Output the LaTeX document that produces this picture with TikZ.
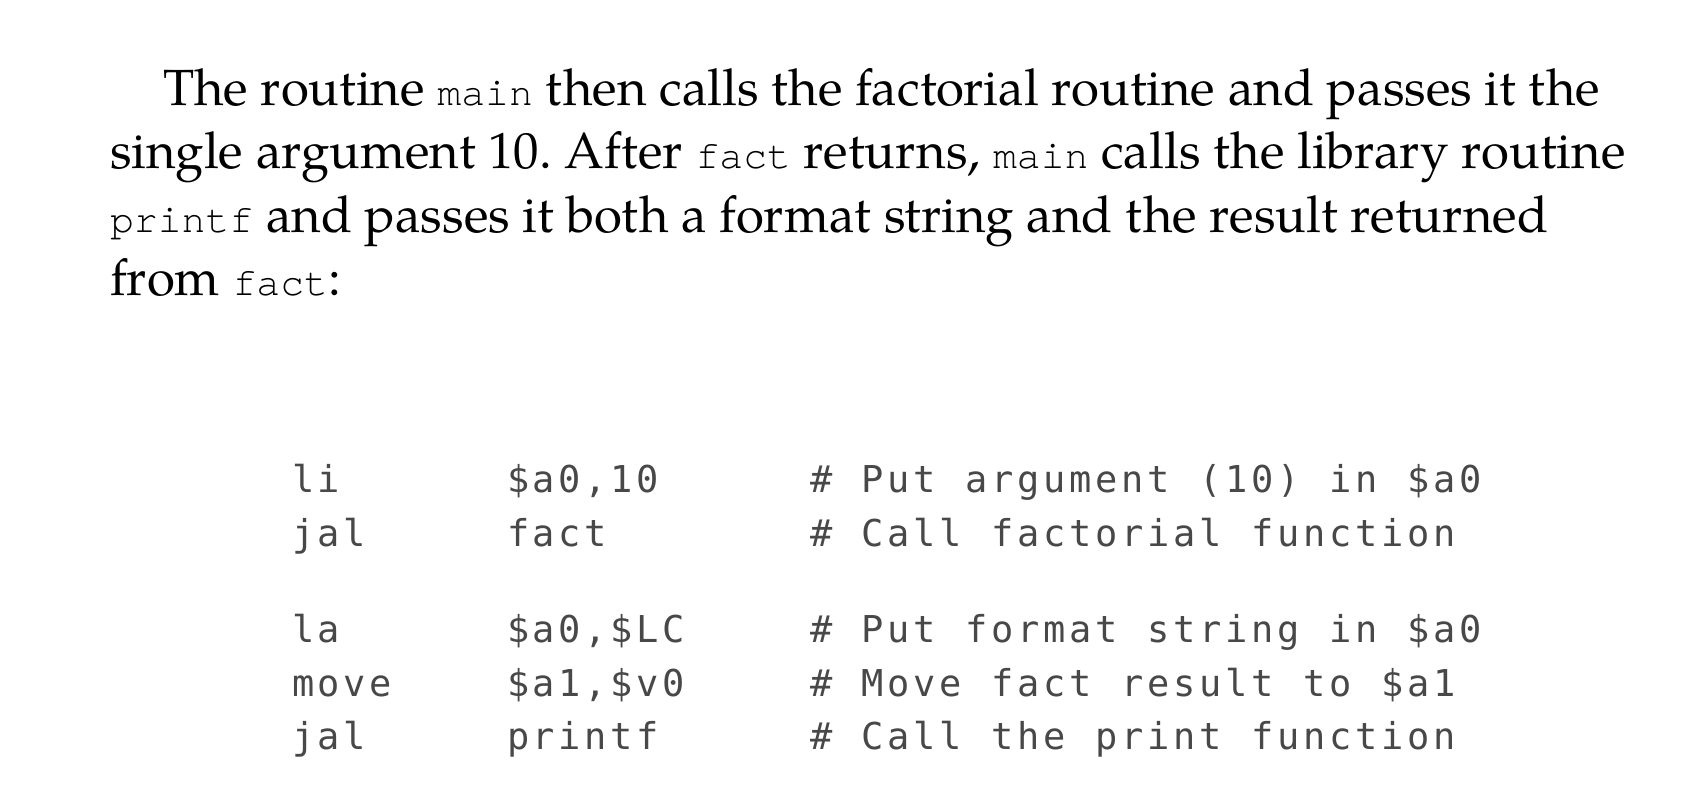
\documentclass[tikz,border=0pt]{standalone}
\usepackage{fontspec}
\IfFontExistsTF{TeX Gyre Pagella}
  {\newfontfamily\palfam{TeX Gyre Pagella}}
  {\newfontfamily\palfam{Liberation Serif}}
\IfFontExistsTF{TeX Gyre Cursor}
  {\newfontfamily\inltt{TeX Gyre Cursor}}
  {\newfontfamily\inltt{Liberation Mono}}
\newfontfamily\asmfont[LetterSpace=10]{DejaVu Sans Mono}
\newcommand\palfont{\palfam\fontsize{50.9pt}{63pt}\selectfont\frenchspacing}
\newcommand\tc[1]{{\inltt\fontsize{39.8pt}{40pt}\selectfont #1}}
\definecolor{codegray}{RGB}{72,72,72}
\tikzset{
  para/.style={anchor=base west, inner sep=0pt, outer sep=0pt, font=\palfont, text=black},
  asm/.style={anchor=base west, inner sep=0pt, outer sep=0pt, text=codegray,
    font={\asmfont\fontsize{37pt}{40pt}\selectfont\spaceskip=29.7pt\relax}}
}
\begin{document}
\begin{tikzpicture}[x=1pt,y=1pt]
\fill[white] (0,0) rectangle (1700,-790);
\useasboundingbox (0,0) rectangle (1700,-790);
% paragraph
\node[para] (l1) at (163,-105) {The routine \tc{main} then calls the factorial routine and passes it the};
\node[para] (l2) at (110,-168) {single argument 10. After \tc{fact} returns, \tc{main} calls the library routine};
\node[para] (l3) at (110,-232) {\tc{printf} and passes it both a format string and the result returned};
\node[para] (l4) at (110,-295) {from \tc{fact}:};
% code block
\node[asm] (a1) at (292,-492) {li};
\node[asm] (b1) at (507,-492) {\$a0,10};
\node[asm] (c1) at (810,-492) {\# Put argument (10) in \$a0};
\node[asm] (a2) at (292,-546) {jal};
\node[asm] (b2) at (507,-546) {fact};
\node[asm] (c2) at (810,-546) {\# Call factorial function};
\node[asm] (a3) at (292,-642) {la};
\node[asm] (b3) at (507,-642) {\$a0,\$LC};
\node[asm] (c3) at (810,-642) {\# Put format string in \$a0};
\node[asm] (a4) at (292,-696) {move};
\node[asm] (b4) at (507,-696) {\$a1,\$v0};
\node[asm] (c4) at (810,-696) {\# Move fact result to \$a1};
\node[asm] (a5) at (292,-749) {jal};
\node[asm] (b5) at (507,-749) {printf};
\node[asm] (c5) at (810,-749) {\# Call the print function};
\end{tikzpicture}
\end{document}
